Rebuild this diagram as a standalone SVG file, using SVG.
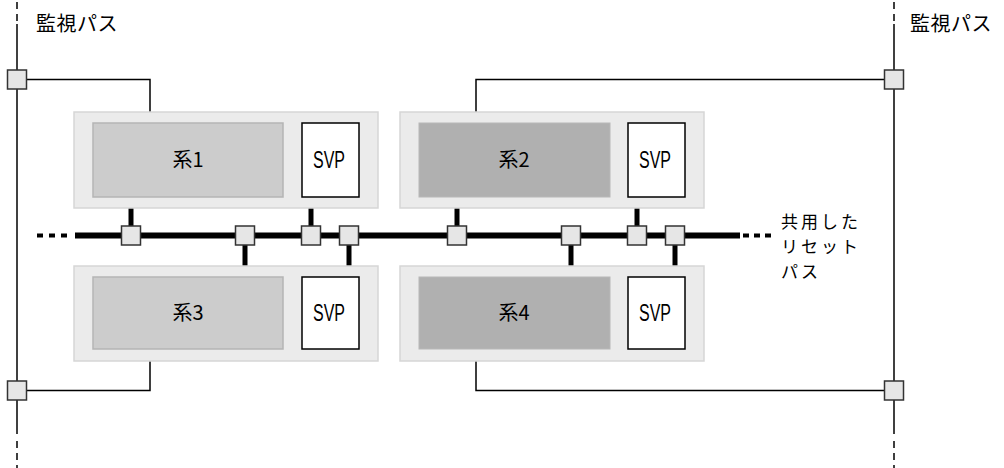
<svg xmlns="http://www.w3.org/2000/svg" width="1004" height="468" viewBox="0 0 1004 468">
<style>
.jp{font-family:"Noto Sans CJK JP","Liberation Sans",sans-serif;fill:#000}
.lbl{font-size:20px;letter-spacing:0.5px}
.sys{font-size:20px;text-anchor:middle}
.svp{font-family:"Liberation Sans","Noto Sans CJK JP",sans-serif;font-size:24px;fill:#000}
.note{font-size:17px;letter-spacing:3px}
.outer{fill:#ebebeb;stroke:#d6d6d6;stroke-width:1.5}
.inA{fill:#cccccc;stroke:#b5b5b5;stroke-width:1.5}
.inB{fill:#b0b0b0;stroke:#b8b8b8;stroke-width:1}
.svpbox{fill:#fff;stroke:#000;stroke-width:1.5}
.node{fill:#e6e6e6;stroke:#333;stroke-width:1.5}
.thin{fill:none;stroke:#000;stroke-width:1.5}
.thick{fill:none;stroke:#000;stroke-width:5}
.dash{fill:none;stroke:#000;stroke-width:1.5;stroke-dasharray:7 5}
</style>

<g id="connectors">
  <line class="dash" x1="17" y1="2" x2="17" y2="21"/>
  <line class="thin" x1="17" y1="24" x2="17" y2="434"/>
  <line class="dash" x1="17" y1="441" x2="17" y2="468"/>
  <line class="dash" x1="894" y1="2" x2="894" y2="21"/>
  <line class="thin" x1="894" y1="24" x2="894" y2="434"/>
  <line class="dash" x1="894" y1="441" x2="894" y2="468"/>
  <polyline class="thin" points="17,79.5 150,79.5 150,123"/>
  <polyline class="thin" points="894,79.5 476,79.5 476,123"/>
  <polyline class="thin" points="150,349 150,390.5 17,390.5"/>
  <polyline class="thin" points="476,349 476,390.5 894,390.5"/>
  <line x1="37" y1="235.5" x2="72" y2="235.5" stroke="#000" stroke-width="4" stroke-dasharray="6 6"/>
  <line x1="75" y1="235.5" x2="740" y2="235.5" stroke="#000" stroke-width="6"/>
  <line x1="743" y1="235.5" x2="773" y2="235.5" stroke="#000" stroke-width="4" stroke-dasharray="6 5"/>
  <line class="thick" x1="131" y1="197" x2="131" y2="228"/>
  <line class="thick" x1="311" y1="197" x2="311" y2="228"/>
  <line class="thick" x1="457" y1="197" x2="457" y2="228"/>
  <line class="thick" x1="637" y1="197" x2="637" y2="228"/>
  <line class="thick" x1="245" y1="243" x2="245" y2="277"/>
  <line class="thick" x1="349" y1="243" x2="349" y2="277"/>
  <line class="thick" x1="571" y1="243" x2="571" y2="277"/>
  <line class="thick" x1="675" y1="243" x2="675" y2="277"/>
</g>

<g id="sys1">
  <rect class="outer" x="74" y="112" width="304" height="96"/>
  <rect class="inA" x="93" y="123" width="190" height="74"/>
  <text class="jp sys" x="188" y="167">系1</text>
</g>
<g id="svp1">
  <rect class="svpbox" x="302" y="123" width="57" height="74"/>
  <text class="svp" x="313" y="168" textLength="32" lengthAdjust="spacingAndGlyphs">SVP</text>
</g>
<g id="sys2">
  <rect class="outer" x="400" y="112" width="304" height="96"/>
  <rect class="inB" x="419" y="123" width="191" height="74"/>
  <text class="jp sys" x="514" y="167">系2</text>
</g>
<g id="svp2">
  <rect class="svpbox" x="628" y="123" width="57" height="74"/>
  <text class="svp" x="639" y="168" textLength="32" lengthAdjust="spacingAndGlyphs">SVP</text>
</g>
<g id="sys3">
  <rect class="outer" x="74" y="266" width="304" height="95"/>
  <rect class="inA" x="93" y="277" width="190" height="72"/>
  <text class="jp sys" x="188" y="320">系3</text>
</g>
<g id="svp3">
  <rect class="svpbox" x="302" y="277" width="57" height="72"/>
  <text class="svp" x="313" y="321" textLength="32" lengthAdjust="spacingAndGlyphs">SVP</text>
</g>
<g id="sys4">
  <rect class="outer" x="400" y="266" width="304" height="95"/>
  <rect class="inB" x="419" y="277" width="191" height="72"/>
  <text class="jp sys" x="514" y="320">系4</text>
</g>
<g id="svp4">
  <rect class="svpbox" x="628" y="277" width="57" height="72"/>
  <text class="svp" x="639" y="321" textLength="32" lengthAdjust="spacingAndGlyphs">SVP</text>
</g>

<g id="bus-nodes">
  <rect class="node" x="121.5" y="226" width="19" height="19"/>
  <rect class="node" x="235.5" y="226" width="19" height="19"/>
  <rect class="node" x="301.5" y="226" width="19" height="19"/>
  <rect class="node" x="339.5" y="226" width="19" height="19"/>
  <rect class="node" x="447.5" y="226" width="19" height="19"/>
  <rect class="node" x="561.5" y="226" width="19" height="19"/>
  <rect class="node" x="627.5" y="226" width="19" height="19"/>
  <rect class="node" x="665.5" y="226" width="19" height="19"/>
</g>
<g id="monitor-nodes">
  <rect class="node" x="7.5" y="70" width="19" height="19"/>
  <rect class="node" x="884.5" y="70" width="19" height="19"/>
  <rect class="node" x="7.5" y="381" width="19" height="19"/>
  <rect class="node" x="884.5" y="381" width="19" height="19"/>
</g>

<g id="labels">
  <text class="jp lbl" x="36" y="31">監視パス</text>
  <text class="jp lbl" x="910" y="31">監視パス</text>
  <text class="jp note" x="781" y="228">共用した</text>
  <text class="jp note" x="781" y="253">リセット</text>
  <text class="jp note" x="781" y="278">パス</text>
</g>
</svg>
